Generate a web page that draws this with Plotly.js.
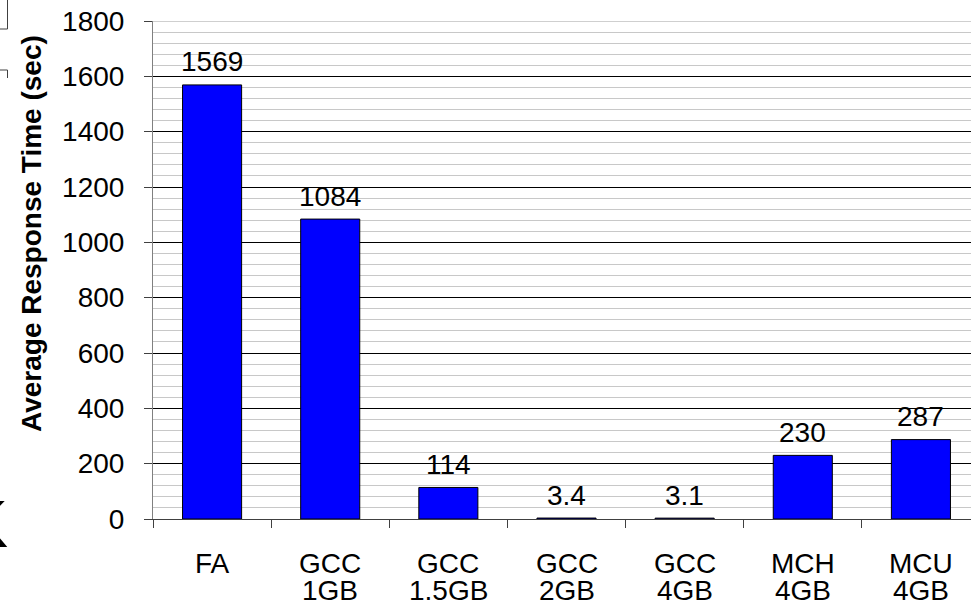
<!DOCTYPE html>
<html>
<head>
<meta charset="utf-8">
<script src="https://cdn.plot.ly/plotly-3.0.1.min.js"></script>
<style>
html, body { margin: 0; padding: 0; overflow: hidden; background: #fff; }
#chart { width: 1000px; height: 607px; }
</style>
</head>
<body>
<div id="chart"></div>
<script>
// ---- data ----
const categories = ["FA", "GCC 1GB", "GCC 1.5GB", "GCC 2GB", "GCC 4GB", "MCH 4GB", "MCU 4GB"];
const labelLine1 = ["FA", "GCC", "GCC", "GCC", "GCC", "MCH", "MCU"];
const labelLine2 = ["", "1GB", "1.5GB", "2GB", "4GB", "4GB", "4GB"];
const responseTime = [1569, 1084, 114, 3.4, 3.1, 230, 287];
const yTitle = "Average Response Time (sec)";

// ---- layout helpers (pixel -> paper) ----
const W = 1000, H = 607;
const M = { l: 153, r: 20, t: 21, b: 88 };
const PW = W - M.l - M.r, PH = H - M.t - M.b;
const px = x => (x - M.l) / PW;
const py = y => (H - M.b - y) / PH;
const FONT = "Arial, 'Liberation Sans', sans-serif";

const annotations = [];
// data labels
responseTime.forEach((v, i) => {
  annotations.push({
    x: categories[i], y: v, xref: "x", yref: "y",
    text: String(v), showarrow: false,
    yanchor: "middle", yshift: 23,
    font: { family: FONT, size: 28, color: "#000" }
  });
});
// category labels (two lines, tight spacing)
categories.forEach((c, i) => {
  annotations.push({
    x: c, y: 0, xref: "x", yref: "paper", text: labelLine1[i], showarrow: false,
    yanchor: "middle", yshift: -44, font: { family: FONT, size: 28, color: "#000" }
  });
  if (labelLine2[i]) annotations.push({
    x: c, y: 0, xref: "x", yref: "paper", text: labelLine2[i], showarrow: false,
    yanchor: "middle", yshift: -71, font: { family: FONT, size: 28, color: "#000" }
  });
});
// y axis title
annotations.push({
  x: px(31), y: py(234), xref: "paper", yref: "paper", text: "<b>" + yTitle + "</b>",
  textangle: -90, showarrow: false, xanchor: "center", yanchor: "middle",
  font: { family: FONT, size: 28, color: "#000" }
});
// cropped letter at far left
annotations.push({
  x: px(10), y: py(524), xref: "paper", yref: "paper", text: "K",
  showarrow: false, xanchor: "right", yanchor: "middle",
  font: { family: FONT, size: 66, color: "#000" }
});

const edge = "#404040";
const shapes = [
  { type: "line", xref: "paper", yref: "y", x0: 0, x1: 1, y0: 1800, y1: 1800, line: { color: "#a0a0a0", width: 1 }, layer: "above" },
  // cropped table fragments at top-left
  { type: "line", xref: "paper", yref: "paper", x0: px(7.5), x1: px(7.5), y0: py(0), y1: py(29), line: { color: edge, width: 1 } },
  { type: "line", xref: "paper", yref: "paper", x0: px(0), x1: px(7.5), y0: py(29), y1: py(29), line: { color: edge, width: 1 } },
  { type: "line", xref: "paper", yref: "paper", x0: px(0), x1: px(7.5), y0: py(70), y1: py(70), line: { color: edge, width: 1 } },
  { type: "line", xref: "paper", yref: "paper", x0: px(7.5), x1: px(7.5), y0: py(70), y1: py(78), line: { color: edge, width: 1 } }
];

const trace = {
  type: "bar",
  x: categories,
  y: responseTime,
  marker: { color: "#0000FF", line: { color: "#000", width: 1 } },
  hoverinfo: "x+y"
};

const layout = {
  width: W, height: H,
  margin: M,
  paper_bgcolor: "#fff", plot_bgcolor: "#fff",
  bargap: 0.5,
  showlegend: false,
  font: { family: FONT, size: 28, color: "#000" },
  xaxis: {
    type: "category",
    showticklabels: false,
    tickson: "boundaries",
    ticks: "outside", ticklen: 8, tickcolor: "#404040", tickwidth: 1,
    showline: true, linecolor: "#404040", linewidth: 1,
    showgrid: false, zeroline: false,
    range: [-0.5, 6.5], fixedrange: true
  },
  yaxis: {
    range: [0, 1800], dtick: 200, tick0: 0,
    ticks: "outside", ticklen: 8, tickcolor: "#404040", tickwidth: 1,
    ticklabelstandoff: 14,
    tickfont: { family: FONT, size: 28, color: "#000" },
    showline: true, linecolor: "#808080", linewidth: 1,
    showgrid: true, gridcolor: "#000", gridwidth: 1,
    zeroline: false,
    minor: { dtick: 40, showgrid: true, gridcolor: "#c8c8c8", gridwidth: 1, ticks: "" },
    fixedrange: true
  },
  annotations: annotations,
  shapes: shapes
};

Plotly.newPlot("chart", [trace], layout, { displayModeBar: false, staticPlot: true });
</script>
</body>
</html>
